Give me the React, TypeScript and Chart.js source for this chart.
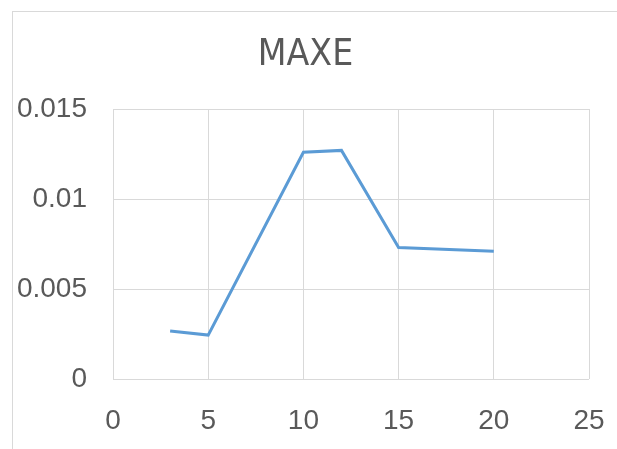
import React, { useEffect, useRef } from "react";
import { Chart, registerables } from "chart.js";

Chart.register(...registerables);

const xValues = [3, 5, 10, 12, 15, 20];
const maxeValues = [0.00267, 0.00244, 0.0126, 0.0127, 0.0073, 0.0071];
const titleText = "MAXE";
const xMin = 0, xMax = 25, xStep = 5;
const yMin = 0, yMax = 0.015, yStep = 0.005;

const W = 617, H = 449;

const titlePlugin = {
  id: "centeredTitle",
  afterDraw(chart: any) {
    const ctx = chart.ctx;
    ctx.save();
    ctx.fillStyle = "#595959";
    ctx.font = "normal 37px 'DejaVu Sans Condensed', 'Liberation Sans', sans-serif";
    ctx.textAlign = "center";
    ctx.textBaseline = "middle";
    const area = chart.chartArea;
    ctx.fillText(titleText, chart.width / 2 - 3, area.top - 54);
    ctx.restore();
  },
};

export default function App() {
  const ref = useRef<HTMLCanvasElement | null>(null);
  useEffect(() => {
    if (!ref.current) return;
    const gray = "#595959";
    const grid = "#d9d9d9";
    const chart = new Chart(ref.current, {
      type: "line",
      data: {
        datasets: [
          {
            label: titleText,
            data: xValues.map((x, i) => ({ x, y: maxeValues[i] })),
            borderColor: "#5b9bd5",
            backgroundColor: "#5b9bd5",
            borderWidth: 3,
            pointRadius: 0,
            tension: 0,
            fill: false,
          },
        ],
      },
      plugins: [titlePlugin],
      options: {
        responsive: false,
        animation: false,
        layout: { padding: { left: 0, right: 28, top: 109, bottom: 0 } },
        plugins: {
          legend: { display: false },
          tooltip: { enabled: false },
          title: { display: false },
        },
        scales: {
          x: {
            type: "linear",
            min: xMin,
            max: xMax,
            border: { display: false },
            grid: { color: grid, lineWidth: 1, drawTicks: false },
            ticks: {
              stepSize: xStep,
              color: gray,
              padding: 25,
              maxRotation: 0,
              font: { family: "'Liberation Sans', Arial, sans-serif", size: 28 },
            },
            afterFit: (s: any) => { s.height = H - 379; s.paddingLeft = 0; s.paddingRight = 0; },
          },
          y: {
            type: "linear",
            min: yMin,
            max: yMax,
            border: { display: false },
            grid: { color: grid, lineWidth: 1, drawTicks: false },
            ticks: {
              stepSize: yStep,
              color: gray,
              padding: 26,
              font: { family: "'Liberation Sans', Arial, sans-serif", size: 28 },
              callback: (v: any) => String(Number(Number(v).toFixed(4))),
            },
            afterFit: (s: any) => { s.width = 113; s.paddingTop = 0; s.paddingBottom = 0; },
          },
        },
      },
    });
    return () => chart.destroy();
  }, []);

  return (
    <div style={{ position: "fixed", left: 0, top: 0, width: W, height: H, background: "#fff", overflow: "hidden" }}>
      <div style={{ position: "absolute", left: 12, top: 11, width: W, height: H, borderLeft: "1px solid #d9d9d9", borderTop: "1px solid #d9d9d9" }} />
      <canvas ref={ref} width={W} height={H} style={{ position: "absolute", left: 0, top: 0, width: W, height: H }} />
    </div>
  );
}
